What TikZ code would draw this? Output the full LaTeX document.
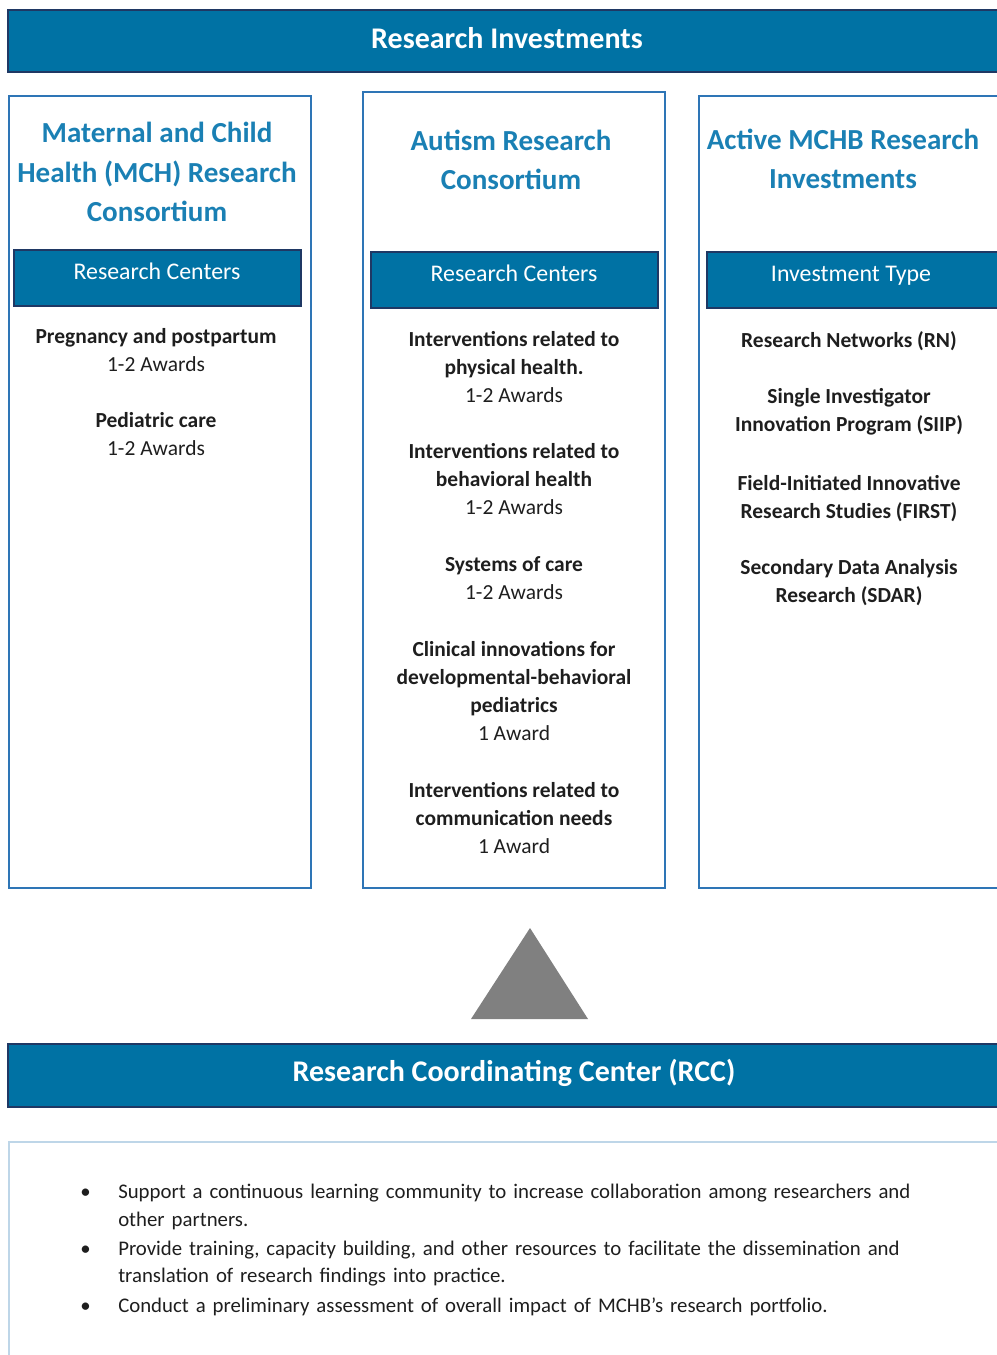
\documentclass[tikz,border=0pt]{standalone}
\usepackage{fontspec}
\setmainfont{Carlito}

\definecolor{rsblue}{RGB}{0,114,164}
\definecolor{rsnavy}{RGB}{31,56,100}
\definecolor{rsframe}{RGB}{46,117,182}
\definecolor{rsteal}{RGB}{26,128,180}
\definecolor{rsgray}{RGB}{128,128,128}
\definecolor{rsline}{RGB}{190,214,232}
\definecolor{rsink}{RGB}{30,30,30}

\tikzset{
  banner/.style={fill=rsblue, draw=rsnavy, line width=1pt},
  bannertext/.style={text=white, anchor=base, font=\bfseries\fontsize{22.5}{26}\selectfont},
  subbanner/.style={fill=rsblue, draw=rsnavy, line width=0.8pt},
  subtext/.style={text=white, anchor=base, font=\fontsize{17.9}{20}\selectfont},
  colbox/.style={draw=rsframe, line width=1.2pt},
  colhead/.style={text=rsteal, align=center, font=\bfseries\fontsize{21.8}{29.5}\selectfont},
  entry/.style={text=rsink, align=center, font=\bfseries\fontsize{16.1}{21}\selectfont},
}

% bullet line with hanging indent for the RCC list
\newcommand{\rccpoint}[1]{\noindent\hangindent=26.25pt\hangafter=1%
  \makebox[26.25pt][l]{\hspace{-2.2pt}\textbullet}#1\par}

\begin{document}
\begin{tikzpicture}[x=0.75pt,y=-0.75pt]
    \useasboundingbox (0,0) rectangle (996,1355);

    % Top banner
    \draw[banner] (8,10) rectangle (1007,72);
    \node[bannertext] (invest) at (507,49) {Research Investments};

    % Column frames
    \draw[colbox] (9,96) rectangle (311,888);
    \draw[colbox] (363,92) rectangle (665,888);
    \draw[colbox] (699,96) rectangle (1007,888);

    % Column headings
    \node[colhead] (mch) at (157,172) {Maternal and Child\\Health (MCH) Research\\Consortium};
    \node[colhead] (autism) at (511,160) {Autism Research\\Consortium};
    \node[colhead] (active) at (843,159) {Active MCHB Research\\Investments};

    % Blue sub-headers
    \draw[subbanner] (14,250) rectangle (301,306);
    \node[subtext] (mchsub) at (157,279) {Research Centers};
    \draw[subbanner] (371,252) rectangle (658,308);
    \node[subtext] (autsub) at (514,281) {Research Centers};
    \draw[subbanner] (707,252) rectangle (1007,308);
    \node[subtext] (actsub) at (851,281) {Investment Type};

    % MCH research centers
    \node[entry] (preg) at (156,350) {Pregnancy and postpartum\\{\mdseries 1-2 Awards}};
    \node[entry] (ped) at (156,434) {Pediatric care\\{\mdseries 1-2 Awards}};

    % Autism research centers
    \node[entry] (phys) at (514,367) {Interventions related to\\physical health.\\{\mdseries 1-2 Awards}};
    \node[entry] (behav) at (514,479) {Interventions related to\\behavioral health\\{\mdseries 1-2 Awards}};
    \node[entry] (soc) at (514,578) {Systems of care\\{\mdseries 1-2 Awards}};
    \node[entry] (clin) at (514,691) {Clinical innovations for\\developmental-behavioral\\pediatrics\\{\mdseries 1 Award}};
    \node[entry] (comm) at (514,818) {Interventions related to\\communication needs\\{\mdseries 1 Award}};

    % Investment types
    \node[entry] (rn) at (849,341) {Research Networks (RN)};
    \node[entry] (siip) at (849,412) {Single Investigator\\Innovation Program (SIIP)};
    \node[entry] (first) at (849,499) {Field-Initiated Innovative\\Research Studies (FIRST)};
    \node[entry] (sdar) at (849,583) {Secondary Data Analysis\\Research (SDAR)};

    % Grey triangle
    \fill[rsgray] (530,928) -- (588,1019) -- (471,1019) -- cycle;

    % RCC banner and its box
    \draw[banner] (8,1044) rectangle (1007,1107);
    \node[bannertext] (rcc) at (514,1081) {Research Coordinating Center (RCC)};
    \draw[draw=rsline, line width=1pt] (9,1142) rectangle (1007,1365);

    \node[anchor=north west, inner sep=0pt, text width=720pt, text=rsink,
          font=\fontsize{15.6}{20.5}\selectfont] (rcclist) at (83,1184) {%
      \rccpoint{Support a continuous learning community to increase collaboration among researchers and\newline other partners.}
      \vspace{1.5pt}
      \rccpoint{Provide training, capacity building, and other resources to facilitate the dissemination and\newline translation of research findings into practice.}
      \vspace{1.5pt}
      \rccpoint{Conduct a preliminary assessment of overall impact of MCHB’s research portfolio.}};

\end{tikzpicture}
\end{document}
